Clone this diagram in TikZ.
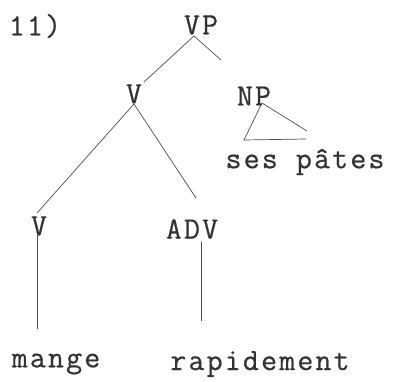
\documentclass[tikz,border=0pt]{standalone}
\usepackage{fontspec}
\newfontfamily\tw[LetterSpace=7,FakeBold=0.6]{Latin Modern Mono}
\begin{document}
\begin{tikzpicture}[x=1pt,y=-1pt,
  lbl/.style={inner sep=0pt,font=\tw\fontsize{31}{31}\selectfont,text=black!80},
  br/.style={draw=black!70,line width=0.7pt}]
\useasboundingbox (0,0) rectangle (394,381);
\node[lbl] (ex) at (35,26) {11)};
\node[lbl] (vp) at (201,25) {VP};
\node[lbl] (vbar) at (134,94) {V};
\node[lbl] (np) at (254,96) {NP};
\node[lbl] (ses) at (305,162) {ses pâtes};
\node[lbl] (v) at (39,226) {V};
\node[lbl] (adv) at (192,229) {ADV};
\node[lbl] (mange) at (56,364) {mange};
\node[lbl] (rap) at (260,364) {rapidement};
\coordinate (vpb) at (194,36);
\coordinate (vpl) at (144,82);
\coordinate (vpr) at (221,60);
\coordinate (va) at (134,104);
\coordinate (vl) at (37,213);
\coordinate (vr) at (196,198);
\coordinate (npa) at (262,103);
\coordinate (npl) at (244,140);
\coordinate (npr) at (307,131);
\coordinate (npb) at (306,139);
\coordinate (vt) at (37,235);
\coordinate (vbt) at (37,329);
\coordinate (at) at (201,242);
\coordinate (ab) at (201,321);
\draw[br] (vpb) -- (vpl);
\draw[br] (vpb) -- (vpr);
\draw[br] (va) -- (vl);
\draw[br] (va) -- (vr);
\draw[br] (npa) -- (npr);
\draw[br] (npa) -- (npl) -- (npb);
\draw[br] (vt) -- (vbt);
\draw[br] (at) -- (ab);
\end{tikzpicture}
\end{document}
